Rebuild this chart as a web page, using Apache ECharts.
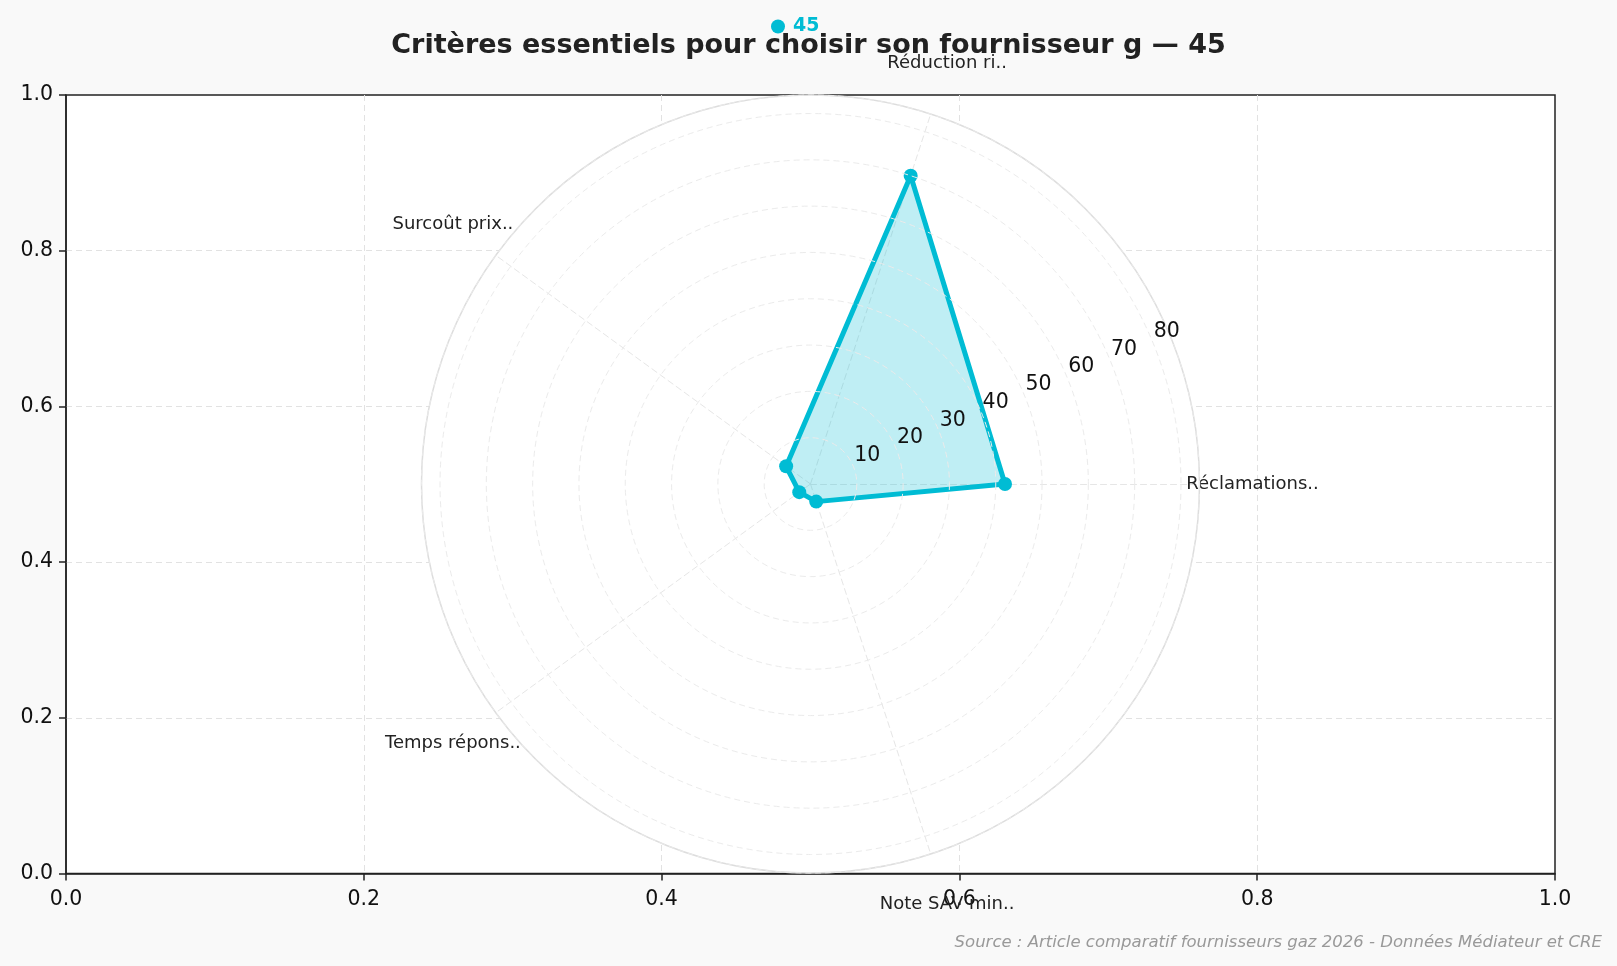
<!DOCTYPE html>
<html>
<head>
<meta charset="utf-8">
<title>Critères essentiels</title>
<script src="https://cdn.jsdelivr.net/npm/echarts@6/dist/echarts.min.js"></script>
<style>
  html, body { margin: 0; padding: 0; background: #f9f9f9; }
  #chart { width: 1617px; height: 966px; }
</style>
</head>
<body>
<div id="chart"></div>
<script>
// radar data
const categories = ['Réclamations..', 'Réduction ri..', 'Surcoût prix..', 'Temps répons..', 'Note SAV min..'];
const values = [42, 70, 6.5, 3, 4];
const seriesName = '45';
const radialTicks = [10, 20, 30, 40, 50, 60, 70, 80];
// background cartesian axes
const axisTicks = [0, 0.2, 0.4, 0.6, 0.8, 1.0];

const radialMax = Math.max(...values) * 1.2;
const mainColor = '#00BCD4';
const font = 'DejaVu Sans';

const center = [810.5, 484];
const radius = 389;

const myChart = echarts.init(document.getElementById('chart'));

const gridLine = {
  show: true, showMinLine: false, showMaxLine: false,
  lineStyle: { color: '#e2e2e2', width: 1, type: [6, 4] }
};

const option = {
  backgroundColor: '#f9f9f9',
  animation: false,
  title: {
    text: 'Critères essentiels pour choisir son fournisseur g — 45',
    left: 'center',
    top: 27,
    textStyle: { fontFamily: font, fontSize: 27, fontWeight: 'bold', color: '#222' }
  },
  legend: {
    data: [seriesName],
    left: 766,
    top: 12,
    icon: 'circle',
    itemWidth: 14,
    itemHeight: 14,
    textStyle: { fontFamily: font, fontSize: 19, fontWeight: 'bold', color: mainColor, padding: [0, 0, 0, 3] }
  },
  grid: {
    left: 66, right: 62, top: 95, bottom: 92.5,
    show: true, backgroundColor: '#ffffff', borderWidth: 1.5, borderColor: '#222'
  },
  xAxis: {
    type: 'value', min: axisTicks[0], max: axisTicks[axisTicks.length - 1], interval: 0.2,
    axisLine: { lineStyle: { color: '#222', width: 1.5 } },
    axisTick: { show: true, length: 7, lineStyle: { color: '#222', width: 1.5 } },
    axisLabel: { margin: 16, color: '#111', fontFamily: font, fontSize: 20.5, formatter: v => v.toFixed(1) },
    splitLine: gridLine
  },
  yAxis: {
    type: 'value', min: axisTicks[0], max: axisTicks[axisTicks.length - 1], interval: 0.2,
    axisLine: { show: true, lineStyle: { color: '#222', width: 1.5 } },
    axisTick: { show: true, length: 7, lineStyle: { color: '#222', width: 1.5 } },
    axisLabel: { margin: 13, color: '#111', fontFamily: font, fontSize: 20.5, formatter: v => v.toFixed(1) },
    splitLine: gridLine
  },
  radar: {
    z: 1,
    center: center,
    radius: radius,
    startAngle: 0,
    shape: 'circle',
    indicator: categories.map(name => ({ name: name, min: 0, max: radialMax })),
    nameGap: 53,
    axisName: {
      color: '#222', fontFamily: font, fontSize: 18,
      align: 'center', verticalAlign: 'middle'
    },
    splitNumber: 1,
    splitLine: { show: false },
    splitArea: { show: true, areaStyle: { color: ['#ffffff'] } },
    axisLine: { show: true, lineStyle: { color: '#e6e6e6', width: 1, type: [6, 4] } }
  },
  polar: {
    center: center,
    radius: radius
  },
  angleAxis: {
    z: 2,
    type: 'value', min: 0, max: 360, startAngle: 22.5,
    axisLine: { show: true, lineStyle: { color: '#dddddd', width: 1.5 } },
    axisTick: { show: false },
    axisLabel: { show: false },
    splitLine: { show: false }
  },
  radiusAxis: {
    z: 3,
    type: 'value', min: 0, max: radialMax, interval: 10,
    axisLine: { show: false },
    axisTick: { show: false },
    axisLabel: {
      margin: 0,
      color: '#111', fontFamily: font, fontSize: 20.5,
      align: 'center', verticalAlign: 'bottom',
      padding: [0, 0, 0, 28],
      showMaxLabel: false,
      formatter: v => radialTicks.includes(v) ? String(v) : ''
    },
    splitLine: { show: true, lineStyle: { color: '#ebebeb', width: 1, type: [6, 4] } }
  },
  series: [
    {
      name: seriesName,
      type: 'radar',
      z: 2,
      symbol: 'circle',
      symbolSize: 14,
      itemStyle: { color: mainColor },
      lineStyle: { color: mainColor, width: 5 },
      areaStyle: { color: mainColor, opacity: 0.25 },
      data: [{ value: values, name: seriesName }]
    }
  ],
  graphic: [
    {
      type: 'text',
      right: 15,
      top: 934,
      style: {
        text: 'Source : Article comparatif fournisseurs gaz 2026 - Données Médiateur et CRE',
        fontFamily: font, fontSize: 16.5, fontStyle: 'italic', fill: '#999999'
      }
    }
  ]
};

myChart.setOption(option);
</script>
</body>
</html>
